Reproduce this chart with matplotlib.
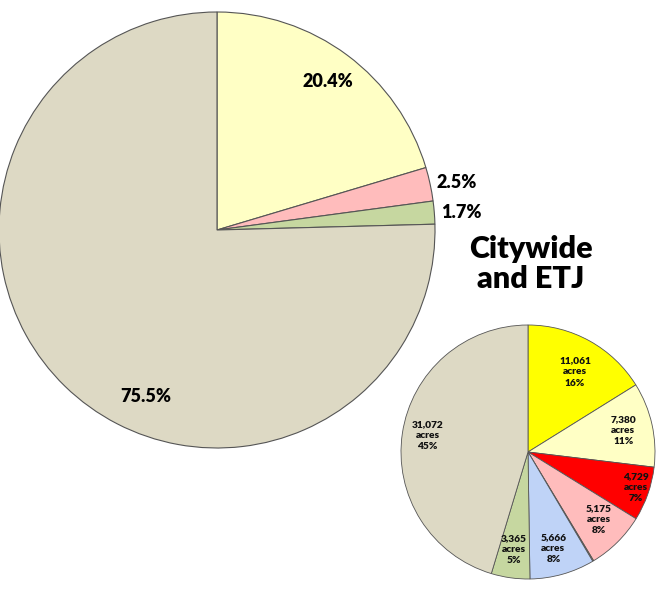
import matplotlib
matplotlib.use("Agg")
import matplotlib.pyplot as plt
import numpy as np

# Large pie (percent)
big_labels = ["20.4%", "2.5%", "1.7%", "75.5%"]
big_values = [20.4, 2.5, 1.7, 75.5]
big_colors = ["#ffffc5", "#ffbcbc", "#c6d7a0", "#ddd9c4"]

# Small pie (Citywide and ETJ, acres)
small_values = [11061, 7380, 4729, 5175, 90, 5666, 3365, 31072]
small_pcts = ["16%", "11%", "7%", "8%", "", "8%", "5%", "45%"]
small_colors = ["#ffff00", "#ffffc5", "#ff0000", "#ffbcbc", "#c8a060",
                "#bfd3f7", "#c6d7a0", "#ddd9c4"]
title_text = "Citywide\nand ETJ"

FONT = "Lato"
W, H = 670, 591
fig = plt.figure(figsize=(W / 100, H / 100), dpi=100)

def pix_axes(cx, cy, r):
    return fig.add_axes([(cx - r) / W, 1 - (cy + r) / H, 2 * r / W, 2 * r / H])

# ---- big pie
ax1 = pix_axes(217, 230, 218)
wedges, _ = ax1.pie(big_values, colors=big_colors, startangle=90, counterclock=False,
                    radius=1.0, wedgeprops=dict(edgecolor="#555555", linewidth=0.8))
ax1.set_xlim(-1, 1); ax1.set_ylim(-1, 1); ax1.set_aspect("equal"); ax1.axis("off")
# label placement: (radius, angle shift deg, ha)
big_pos = [(0.85, 0.0, "center"), (1.03, 0.0, "left"), (1.03, 0.0, "left"), (0.83, 21.0, "center")]
for w, lab, (rr, sh, ha) in zip(wedges, big_labels, big_pos):
    mid = np.deg2rad((w.theta1 + w.theta2) / 2 + sh)
    ax1.text(rr * np.cos(mid), rr * np.sin(mid), lab, ha=ha, va="center",
             fontsize=13, fontweight="heavy", family=FONT, color="black")

# ---- small pie
ax2 = pix_axes(528, 452, 127)
wedges2, _ = ax2.pie(small_values, colors=small_colors, startangle=90, counterclock=False,
                     radius=1.0, wedgeprops=dict(edgecolor="#555555", linewidth=0.6))
ax2.set_xlim(-1, 1); ax2.set_ylim(-1, 1); ax2.set_aspect("equal"); ax2.axis("off")
small_pos = [(0.37, 0.63), (0.75, 0.17), (0.85, -0.28), (0.56, -0.53), None,
             (0.20, -0.76), (-0.11, -0.77), (-0.79, 0.13)]
for v, p, pos in zip(small_values, small_pcts, small_pos):
    if pos is None:
        continue
    ax2.text(pos[0], pos[1], f"{v:,}\nacres\n{p}", ha="center", va="center",
             fontsize=7.3, fontweight="heavy", family=FONT, color="#111111", linespacing=1.3)

fig.text(531 / W, 1 - 264 / H, title_text, ha="center", va="center", fontsize=22,
         fontweight="heavy", family=FONT, linespacing=1.1)

fig.savefig("out.png", dpi=100)
